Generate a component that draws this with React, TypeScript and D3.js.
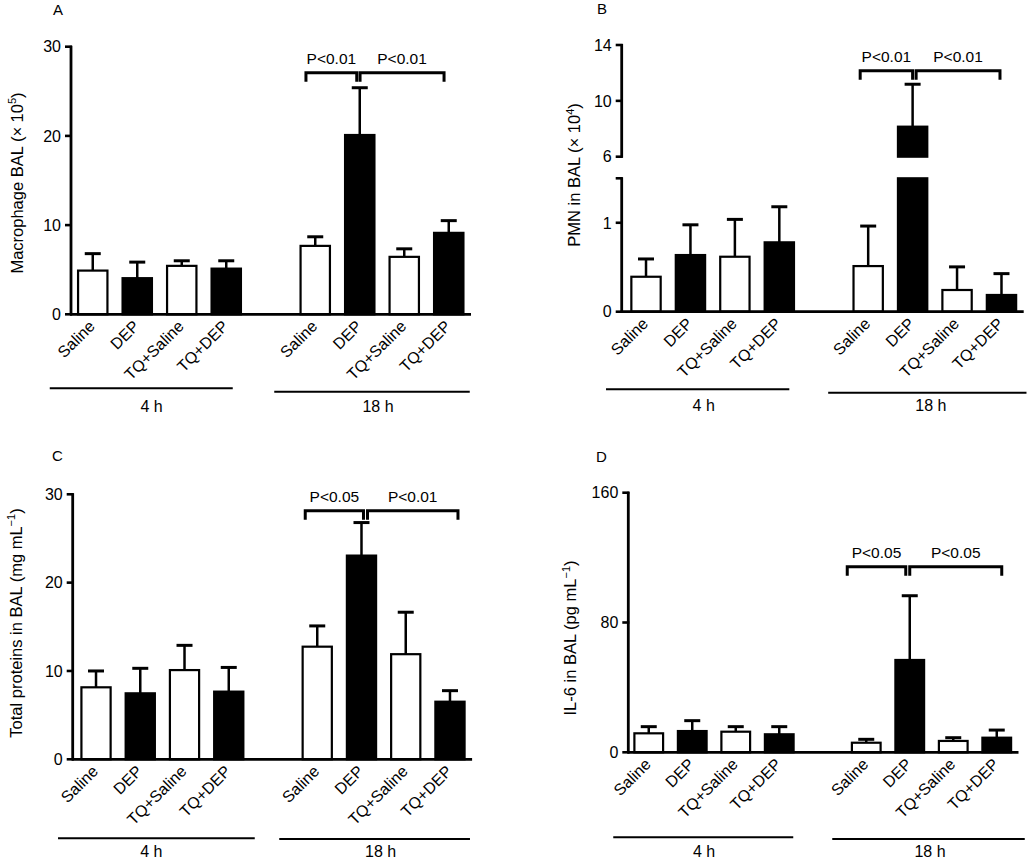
import React from "react";
import * as d3 from "d3";

const FONT = '"Liberation Sans", Arial, Helvetica, sans-serif';

// ---------- data ----------
const categories = ["Saline", "DEP", "TQ+Saline", "TQ+DEP"];
const timeGroups = ["4 h", "18 h"];
const barFills = ["#ffffff", "#000000", "#ffffff", "#000000"];

const macrophageMean4h = [4.9, 4.05, 5.43, 5.12];
const macrophageMean18h = [7.67, 20.1, 6.44, 9.13];
const macrophageSem4h = [1.9, 1.8, 0.57, 0.88];
const macrophageSem18h = [1.02, 5.3, 0.9, 1.37];
const macrophageTicks = [0, 10, 20, 30];
const macrophageP = ["P<0.01", "P<0.01"];

const pmnMean4h = [0.393, 0.637, 0.618, 0.78];
const pmnMean18h = [0.513, 8.15, 0.244, 0.188];
const pmnSem4h = [0.2, 0.34, 0.42, 0.4];
const pmnSem18h = [0.45, 3.04, 0.26, 0.24];
const pmnLowerTicks = [0, 1];
const pmnUpperTicks = [6, 10, 14];
const pmnP = ["P<0.01", "P<0.01"];

const proteinMean4h = [8.15, 7.47, 10.1, 7.66];
const proteinMean18h = [12.75, 23.06, 11.9, 6.52];
const proteinSem4h = [1.85, 2.83, 2.8, 2.74];
const proteinSem18h = [2.35, 3.74, 4.75, 1.25];
const proteinTicks = [0, 10, 20, 30];
const proteinP = ["P<0.05", "P<0.01"];

const il6Mean4h = [11.7, 13.1, 12.7, 11.1];
const il6Mean18h = [5.9, 56.9, 7.0, 9.0];
const il6Sem4h = [4.1, 6.4, 3.1, 4.7];
const il6Sem18h = [2.1, 39.6, 2.0, 4.7];
const il6Ticks = [0, 80, 160];
const il6P = ["P<0.05", "P<0.05"];

// ---------- layout ----------
const FS_TICK = 16;
const FS_CAT = 16;
const FS_GROUP = 16;
const FS_YLAB = 16.5;
const FS_P = 15.5;
const FS_LETTER = 15;

type Segment = {
  domain: [number, number];
  range: [number, number];
  ticks: number[];
  capTop?: boolean;
};

type PanelCfg = {
  letter: string;
  letterPos: [number, number];
  x0: number;
  x1: number;
  axisX: number;
  segments: Segment[];
  mean4: number[];
  mean18: number[];
  sem4: number[];
  sem18: number[];
  yLabelMain: string;
  yLabelSup: string;
  yLabelPos: [number, number];
  pLabels: string[];
  bracketValue: number;
  bracketOff: number[];
  groupLineOff: number[][];
  groupLineY: number[];
  groupLabelY: number;
  groupLabelOff: number[];
};

const slots = [
  ...categories.map((k) => "4 h|" + k),
  "gap",
  ...categories.map((k) => "18 h|" + k),
];

function Panel({ c }: { c: PanelCfg }) {
  const x = d3
    .scaleBand<string>()
    .domain(slots)
    .range([c.x0, c.x1])
    .paddingInner(0.34)
    .paddingOuter(0.17);
  const bw = x.bandwidth();
  const cx = (k: string) => (x(k) as number) + bw / 2;
  const scales = c.segments.map((s) =>
    d3.scaleLinear().domain(s.domain).range(s.range)
  );
  const yOf = (v: number) => {
    for (let i = 0; i < c.segments.length; i++)
      if (v <= c.segments[i].domain[1]) return scales[i](v);
    return scales[scales.length - 1](v);
  };
  const y0 = scales[0](0);

  const bars: React.ReactNode[] = [];
  const errs: React.ReactNode[] = [];
  const labels: React.ReactNode[] = [];
  timeGroups.forEach((g, gi) => {
    const means = gi === 0 ? c.mean4 : c.mean18;
    const sems = gi === 0 ? c.sem4 : c.sem18;
    categories.forEach((cat, ci) => {
      const key = g + "|" + cat;
      const m = means[ci];
      const s = sems[ci];
      c.segments.forEach((seg, si) => {
        if (si > 0 && m <= seg.domain[0]) return;
        const top = scales[si](Math.min(m, seg.domain[1]));
        const bottom = scales[si](seg.domain[0]);
        bars.push(
          <rect
            key={key + si}
            x={x(key)}
            y={top}
            width={bw}
            height={bottom - top}
            fill={barFills[ci]}
            stroke="#000"
            strokeWidth={2.2}
          />
        );
      });
      const xc = cx(key);
      const yt = yOf(m + s);
      errs.push(
        <g key={key + "e"} stroke="#000">
          <line x1={xc} x2={xc} y1={yOf(m)} y2={yt} strokeWidth={2.5} />
          <line x1={xc - 8} x2={xc + 8} y1={yt} y2={yt} strokeWidth={3} />
        </g>
      );
      labels.push(
        <text
          key={key + "l"}
          transform={`translate(${xc + 3},${y0 + 13}) rotate(-45)`}
          textAnchor="end"
          fontSize={FS_CAT}
        >
          {cat}
        </text>
      );
    });
  });

  // axis
  const axis: React.ReactNode[] = [];
  c.segments.forEach((seg, si) => {
    axis.push(
      <line
        key={"ax" + si}
        x1={c.axisX}
        x2={c.axisX}
        y1={seg.range[0] + 1}
        y2={seg.range[1] - 1}
        stroke="#000"
        strokeWidth={2.8}
      />
    );
    const tickVals = seg.capTop ? [...seg.ticks, seg.domain[1]] : seg.ticks;
    tickVals.forEach((t, ti) => {
      const yy = scales[si](t);
      axis.push(
        <line
          key={"t" + si + "_" + ti}
          x1={c.axisX - 6}
          x2={c.axisX + 1}
          y1={yy}
          y2={yy}
          stroke="#000"
          strokeWidth={2.6}
        />
      );
      if (seg.ticks.includes(t))
        axis.push(
          <text
            key={"tl" + si + "_" + ti}
            x={c.axisX - 10}
            y={yy}
            dy="0.36em"
            textAnchor="end"
            fontSize={FS_TICK}
          >
            {t}
          </text>
        );
    });
  });

  // group lines
  const groups = timeGroups.map((g, gi) => {
    const first = cx(g + "|" + categories[0]);
    const last = cx(g + "|" + categories[categories.length - 1]);
    const mid =
      (cx(g + "|" + categories[1]) + cx(g + "|" + categories[2])) / 2;
    return (
      <g key={"g" + gi}>
        <line
          x1={first + c.groupLineOff[gi][0]}
          x2={last + c.groupLineOff[gi][1]}
          y1={c.groupLineY[gi]}
          y2={c.groupLineY[gi]}
          stroke="#000"
          strokeWidth={2}
        />
        <text
          x={mid + c.groupLabelOff[gi]}
          y={c.groupLabelY}
          textAnchor="middle"
          fontSize={FS_GROUP}
        >
          {g}
        </text>
      </g>
    );
  });

  // brackets
  const yb = yOf(c.bracketValue);
  const sx = cx("18 h|Saline");
  const dx = cx("18 h|DEP");
  const tx = cx("18 h|TQ+DEP");
  const spans = [
    [sx + c.bracketOff[0], dx + c.bracketOff[1]],
    [dx + c.bracketOff[2], tx + c.bracketOff[3]],
  ];
  const brackets = spans.map(([a, b], i) => (
    <g key={"b" + i}>
      <path
        d={`M${a},${yb + 9}V${yb}H${b}V${yb + 9}`}
        fill="none"
        stroke="#000"
        strokeWidth={3}
      />
      <text x={(a + b) / 2} y={yb - 9} textAnchor="middle" fontSize={FS_P}>
        {c.pLabels[i]}
      </text>
    </g>
  ));

  return (
    <g>
      <text x={c.letterPos[0]} y={c.letterPos[1]} fontSize={FS_LETTER}>
        {c.letter}
      </text>
      <text
        transform={`translate(${c.yLabelPos[0]},${c.yLabelPos[1]}) rotate(-90)`}
        textAnchor="middle"
        fontSize={FS_YLAB}
      >
        {c.yLabelMain}
        <tspan fontSize={11} dy={-6.5}>
          {c.yLabelSup}
        </tspan>
        <tspan dy={6.5}>)</tspan>
      </text>
      {bars}
      {errs}
      <line
        x1={c.axisX - 1}
        x2={c.x1}
        y1={y0}
        y2={y0}
        stroke="#000"
        strokeWidth={2.8}
      />
      {axis}
      {labels}
      {groups}
      {brackets}
    </g>
  );
}

const panelA: PanelCfg = {
  letter: "A",
  letterPos: [53, 15],
  x0: 70.5,
  x1: 471,
  axisX: 71,
  segments: [{ domain: [0, 30], range: [314.3, 46.7], ticks: macrophageTicks }],
  mean4: macrophageMean4h,
  mean18: macrophageMean18h,
  sem4: macrophageSem4h,
  sem18: macrophageSem18h,
  yLabelMain: "Macrophage BAL (× 10",
  yLabelSup: "5",
  yLabelPos: [22.5, 183],
  pLabels: macrophageP,
  bracketValue: 27.07,
  bracketOff: [-9.3, -3, 0.3, -4.7],
  groupLineOff: [
    [-43, 6.5],
    [-41, 21],
  ],
  groupLineY: [388.3, 391.7],
  groupLabelY: 411.5,
  groupLabelOff: [-8, -4],
};

const panelB: PanelCfg = {
  letter: "B",
  letterPos: [597, 14],
  x0: 623.8,
  x1: 1023.7,
  axisX: 621.7,
  segments: [
    { domain: [0, 1.5], range: [311.7, 178.3], ticks: pmnLowerTicks, capTop: true },
    { domain: [6, 14], range: [156.7, 45], ticks: pmnUpperTicks },
  ],
  mean4: pmnMean4h,
  mean18: pmnMean18h,
  sem4: pmnSem4h,
  sem18: pmnSem18h,
  yLabelMain: "PMN in BAL (× 10",
  yLabelSup: "4",
  yLabelPos: [580, 175],
  pLabels: pmnP,
  bracketValue: 12.16,
  bracketOff: [-8, 0, 3.5, -1.5],
  groupLineOff: [
    [-40, 10],
    [-40, 25],
  ],
  groupLineY: [389.3, 392.7],
  groupLabelY: 411,
  groupLabelOff: [-9, -4],
};

const panelC: PanelCfg = {
  letter: "C",
  letterPos: [52, 461],
  x0: 73.9,
  x1: 472.1,
  axisX: 72.7,
  segments: [{ domain: [0, 30], range: [759.3, 494.3], ticks: proteinTicks }],
  mean4: proteinMean4h,
  mean18: proteinMean18h,
  sem4: proteinSem4h,
  sem18: proteinSem18h,
  yLabelMain: "Total proteins in BAL (mg mL",
  yLabelSup: "−1",
  yLabelPos: [21.7, 623],
  pLabels: proteinP,
  bracketValue: 28.15,
  bracketOff: [-12, 2, 6, 8],
  groupLineOff: [
    [-38, 26],
    [-38, 20],
  ],
  groupLineY: [838.3, 839],
  groupLabelY: 856.5,
  groupLabelOff: [-11, -3],
};

const panelD: PanelCfg = {
  letter: "D",
  letterPos: [596, 461.5],
  x0: 627,
  x1: 1018.5,
  axisX: 628.3,
  segments: [{ domain: [0, 160], range: [752.3, 492.7], ticks: il6Ticks }],
  mean4: il6Mean4h,
  mean18: il6Mean18h,
  sem4: il6Sem4h,
  sem18: il6Sem18h,
  yLabelMain: "IL-6 in BAL (pg mL",
  yLabelSup: "−1",
  yLabelPos: [576, 638],
  pLabels: il6P,
  bracketValue: 114.4,
  bracketOff: [-19, -4, 0, 5],
  groupLineOff: [
    [-35.5, 14],
    [-34, 28],
  ],
  groupLineY: [837.3, 839],
  groupLabelY: 857,
  groupLabelOff: [-10, -1.5],
};

export default function App() {
  return (
    <svg
      width={1031}
      height={861}
      style={{ position: "absolute", left: 0, top: 0, background: "#fff" }}
      fontFamily={FONT}
    >
      <rect width={1031} height={861} fill="#fff" />
      <Panel c={panelA} />
      <Panel c={panelB} />
      <Panel c={panelC} />
      <Panel c={panelD} />
    </svg>
  );
}
